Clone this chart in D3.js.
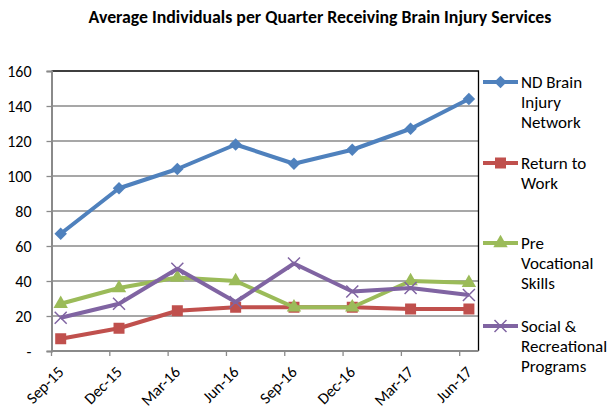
<!DOCTYPE html>
<html>
<head>
<meta charset="utf-8">
<script src="https://cdn.jsdelivr.net/npm/d3@7"></script>
<style>
  body { margin: 0; background: #fff; }
  svg { font-family: Carlito, Lato, "Open Sans", sans-serif; }
</style>
</head>
<body>
<div id="chart"></div>
<script>
// quarters on the x axis
var quarters = ['Sep-15', 'Dec-15', 'Mar-16', 'Jun-16', 'Sep-16', 'Dec-16', 'Mar-17', 'Jun-17'];

// values
var ndBrainInjury = [67, 93, 104, 118, 107, 115, 127, 144];
var returnToWork = [7, 13, 23, 25, 25, 25, 24, 24];
var preVocational = [27, 36, 42, 40, 25, 25, 40, 39];
var socialRec = [19, 27, 47, 28, 50, 34, 36, 32];

var yTicks = [0, 20, 40, 60, 80, 100, 120, 140, 160];

var series = [
    {name: ['ND Brain', 'Injury', 'Network'], values: ndBrainInjury, color: '#4F81BD', marker: 'diamond'},
    {name: ['Return to', 'Work'], values: returnToWork, color: '#C0504D', marker: 'square'},
    {name: ['Pre', 'Vocational', 'Skills'], values: preVocational, color: '#9BBB59', marker: 'triangle'},
    {name: ['Social &', 'Recreational', 'Programs'], values: socialRec, color: '#8064A2', marker: 'x'}
];

var width = 615,
    height = 420,
    plot = {left: 51.5, right: 478.5, top: 71, bottom: 351};

var svg = d3.select('#chart').append('svg')
    .attr('width', width)
    .attr('height', height);

svg.append('text')
    .attr('x', 320)
    .attr('y', 23)
    .attr('text-anchor', 'middle')
    .style('font-size', '17.8px')
    .style('font-weight', 'bold')
    .text('Average Individuals per Quarter Receiving Brain Injury Services');

var x = d3.scalePoint()
    .domain(quarters)
    .range([plot.left + 9.2, plot.right - 9.6]);

var y = d3.scaleLinear()
    .domain([0, 160])
    .range([plot.bottom, plot.top]);

// gridlines
svg.append('g')
    .selectAll('line')
    .data(yTicks.slice(1, -1))
  .enter().append('line')
    .attr('x1', plot.left)
    .attr('x2', plot.right)
    .attr('y1', function(d) { return y(d); })
    .attr('y2', function(d) { return y(d); })
    .style('stroke', '#8a8a8a')
    .style('stroke-width', 1.3);

// plot area border (top + right)
svg.append('path')
    .attr('d', 'M' + plot.left + ',' + plot.top + 'H' + plot.right + 'V' + plot.bottom)
    .style('fill', 'none')
    .style('stroke', '#000')
    .style('stroke-width', 1.3);

// y axis
var yAxis = d3.axisLeft(y)
    .tickValues(yTicks)
    .tickSize(5)
    .tickPadding(15)
    .tickFormat(function(d) { return d === 0 ? '-' : d; });

var gy = svg.append('g')
    .attr('transform', 'translate(' + plot.left + ',0)')
    .call(yAxis);
gy.select('.domain').style('stroke', '#8a8a8a').style('stroke-width', 2);
gy.selectAll('.tick line').style('stroke', '#8a8a8a').style('stroke-width', 1.3);
gy.selectAll('.tick text')
    .style('font-size', '16px')
    .style('font-family', 'Carlito, Lato, sans-serif')
    .attr('fill', '#000');

// x axis: Excel puts its ticks between categories here
var gx = svg.append('g').attr('transform', 'translate(0,' + plot.bottom + ')');
gx.append('line')
    .attr('x1', plot.left)
    .attr('x2', plot.right)
    .style('stroke', '#8a8a8a')
    .style('stroke-width', 2);
gx.selectAll('.xtick')
    .data(quarters)
  .enter().append('line')
    .attr('class', 'xtick')
    .attr('x1', function(d) { return x(d) - 9.2; })
    .attr('x2', function(d) { return x(d) - 9.2; })
    .attr('y1', 0)
    .attr('y2', 5)
    .style('stroke', '#8a8a8a')
    .style('stroke-width', 1.3);
gx.selectAll('.xlabel')
    .data(quarters)
  .enter().append('text')
    .attr('class', 'xlabel')
    .attr('text-anchor', 'end')
    .attr('transform', function(d) {
        return 'translate(' + (x(d) + 4) + ',22) rotate(-45)';
    })
    .style('font-size', '16px')
    .text(function(d) { return d; });

// marker shapes
function drawMarker(sel, type, color, size) {
    if (type === 'diamond') {
        sel.append('path')
            .attr('d', d3.symbol().type(d3.symbolDiamond2).size(size * 1.1))
            .style('fill', color);
    } else if (type === 'square') {
        sel.append('rect')
            .attr('x', -5.5).attr('y', -5.5)
            .attr('width', 11).attr('height', 11)
            .style('fill', color);
    } else if (type === 'triangle') {
        sel.append('path')
            .attr('d', d3.symbol().type(d3.symbolTriangle).size(size))
            .style('fill', color);
    } else {
        sel.append('path')
            .attr('d', 'M-6,-6L6,6M-6,6L6,-6')
            .style('stroke', color)
            .style('stroke-width', 1.5);
    }
}

var line = d3.line()
    .x(function(d, i) { return x(quarters[i]); })
    .y(function(d) { return y(d); });

series.forEach(function(s) {
    var g = svg.append('g');
    g.append('path')
        .datum(s.values)
        .attr('d', line)
        .style('fill', 'none')
        .style('stroke', s.color)
        .style('stroke-width', 4)
        .style('stroke-linejoin', 'round');

    g.selectAll('.pt')
        .data(s.values)
      .enter().append('g')
        .attr('class', 'pt')
        .attr('transform', function(d, i) {
            return 'translate(' + x(quarters[i]) + ',' + y(d) + ')';
        })
        .each(function() { drawMarker(d3.select(this), s.marker, s.color, 90); });
});

// legend
var legendTop = [82, 163, 243, 326];
series.forEach(function(s, i) {
    var g = svg.append('g').attr('transform', 'translate(0,' + legendTop[i] + ')');
    g.append('line')
        .attr('x1', 483).attr('x2', 518)
        .style('stroke', s.color)
        .style('stroke-width', 4);
    var m = g.append('g').attr('transform', 'translate(500.5,0)');
    drawMarker(m, s.marker, s.color, 90);
    g.selectAll('text')
        .data(s.name)
      .enter().append('text')
        .attr('x', 521)
        .attr('y', function(d, j) { return j * 20.2 + 6; })
        .style('font-size', '17px')
        .text(function(d) { return d; });
});
</script>
</body>
</html>
